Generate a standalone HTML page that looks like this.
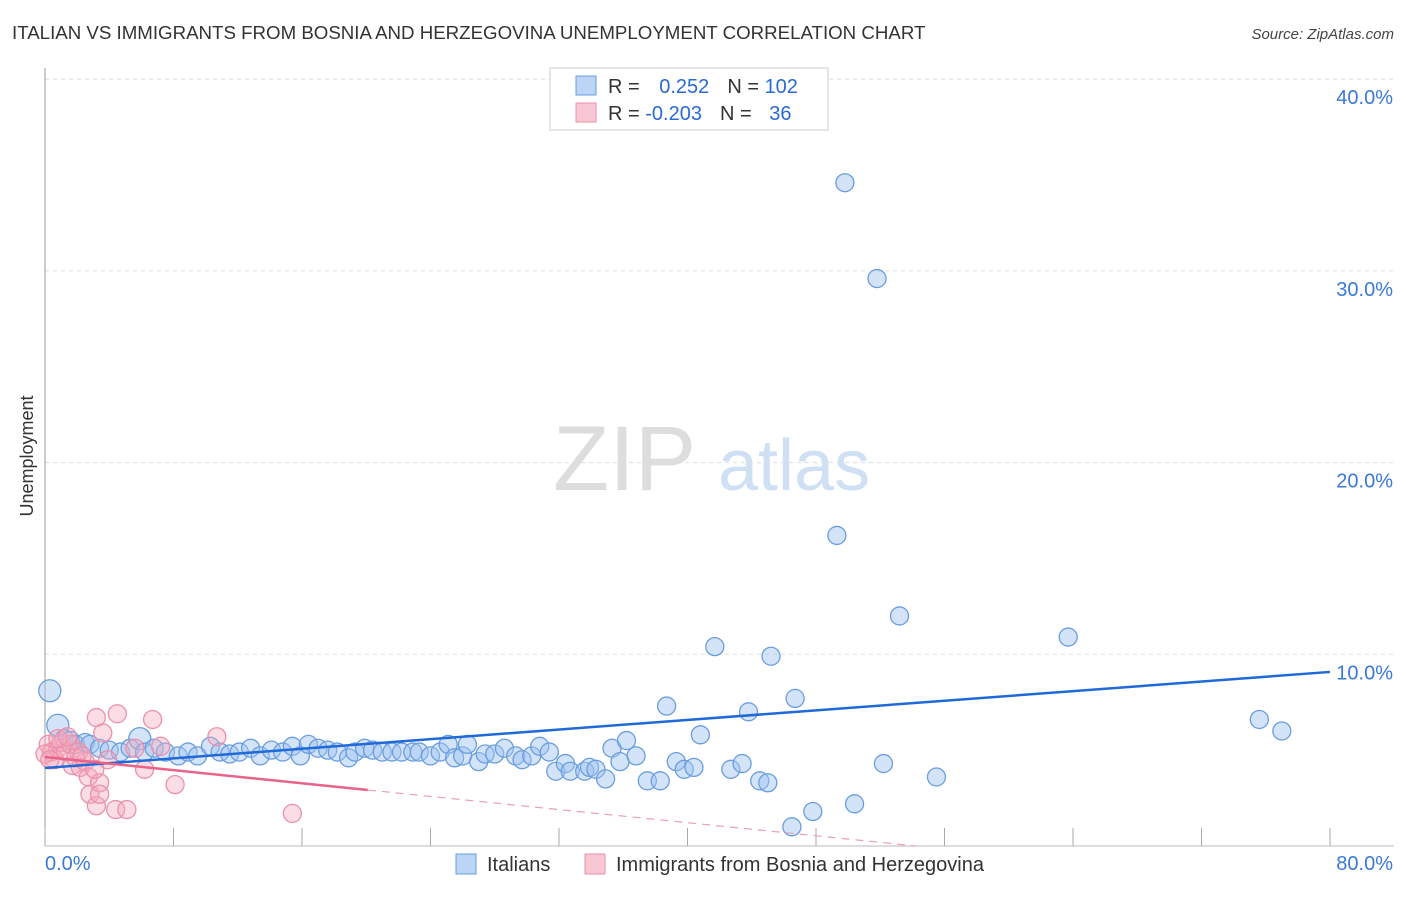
<!DOCTYPE html>
<html><head><meta charset="utf-8"><style>
body{margin:0;background:#fff;font-family:"Liberation Sans",sans-serif;}
svg text{font-family:"Liberation Sans",sans-serif;}
</style></head><body>
<svg id="chart" width="1406" height="892" viewBox="0 0 1406 892" xmlns="http://www.w3.org/2000/svg">
<text x="12" y="39" font-size="18.7" fill="#333">ITALIAN VS IMMIGRANTS FROM BOSNIA AND HERZEGOVINA UNEMPLOYMENT CORRELATION CHART</text>
<text x="1394" y="39" font-size="15" fill="#444" font-style="italic" text-anchor="end">Source: ZipAtlas.com</text>
<text transform="translate(33,456) rotate(-90)" font-size="18" fill="#333" text-anchor="middle">Unemployment</text>
<g><text x="553" y="490" font-size="92" fill="#ddd" font-family="Liberation Serif">ZIP</text><text x="718" y="490" font-size="72" fill="#cfe0f5">atlas</text></g>
<g id="grid"></g><g id="marks"></g>
<g>
<rect x="550" y="68" width="278" height="62" fill="#fff" stroke="#ccc"/>
<rect x="576" y="76" width="20" height="19" fill="#bcd4f6" stroke="#6a9de0"/>
<rect x="576" y="103" width="20" height="19" fill="#f9c6d4" stroke="#ec90aa"/>
<text x="608" y="93" font-size="20" fill="#333">R = <tspan fill="#2a6ad6" dx="14">0.252</tspan><tspan dx="18" fill="#333">N = </tspan><tspan fill="#2a6ad6">102</tspan></text>
<text x="608" y="120" font-size="20" fill="#333">R = <tspan fill="#2a6ad6">-0.203</tspan><tspan dx="18" fill="#333">N = </tspan><tspan fill="#2a6ad6" dx="12">36</tspan></text>
</g>
<g>
<rect x="456" y="854" width="20" height="20" fill="#bcd4f6" stroke="#6a9de0"/>
<text x="487" y="871" font-size="20" fill="#333">Italians</text>
<rect x="585" y="854" width="20" height="20" fill="#f9c6d4" stroke="#ec90aa"/>
<text x="616" y="871" font-size="20" fill="#333">Immigrants from Bosnia and Herzegovina</text>
</g>
</svg>
<script>
const yTicks=[10,20,30,40];
const yTickLabels=["10.0%","20.0%","30.0%","40.0%"];
const xTicks=[0,8,16,24,32,40,48,56,64,72,80];
const italiansX=[0.3,0.8,1.2,1.6,1.9,2.5,2.8,3.4,4.0,4.7,5.3,5.9,6.2,6.8,7.5,8.3,8.9,9.5,10.3,10.9,11.5,12.1,12.8,13.4,14.1,14.8,15.4,15.9,16.4,17.0,17.6,18.2,18.9,19.3,19.9,20.4,21.0,21.6,22.2,22.9,23.3,24.0,24.6,25.1,25.5,26.0,26.3,27.0,27.4,28.0,28.6,29.3,29.7,30.3,30.8,31.4,31.8,32.4,32.7,33.6,33.9,34.3,34.9,35.3,35.8,36.2,36.8,37.5,38.3,38.7,39.3,39.8,40.4,40.8,41.7,42.7,43.4,43.8,44.5,45.0,45.2,46.7,46.5,47.8,49.3,49.8,50.4,51.8,52.2,53.2,55.5,63.7,75.6,77.0];
const italiansY=[8.1,6.3,5.6,5.5,5.3,5.4,5.3,5.1,5.0,4.9,5.1,5.6,4.9,5.1,4.9,4.7,4.9,4.7,5.2,4.9,4.8,4.9,5.1,4.7,5.0,4.9,5.2,4.7,5.3,5.1,5.0,4.9,4.6,4.9,5.1,5.0,4.9,4.9,4.9,4.9,4.9,4.7,4.9,5.3,4.6,4.7,5.3,4.4,4.8,4.8,5.1,4.7,4.5,4.7,5.2,4.9,3.9,4.3,3.9,3.9,4.1,4.0,3.5,5.1,4.4,5.5,4.7,3.4,3.4,7.3,4.4,4.0,4.1,5.8,10.4,4.0,4.3,7.0,3.4,3.3,9.9,7.7,1.0,1.8,16.2,34.6,2.2,29.6,4.3,12.0,3.6,10.9,6.6,6.0];
const bosniaX=[0.2,0.4,0.6,0.8,1.0,1.3,1.6,1.7,2.1,2.2,2.5,2.7,2.8,3.2,3.4,3.2,3.4,3.6,3.9,4.4,4.5,5.1,6.2,6.7,8.1,7.2,10.7,15.4,0.8,0.0,0.3,1.9,3.1,1.4,2.3,5.6];
const bosniaY=[5.3,4.9,4.5,5.1,5.4,4.9,5.3,4.2,4.9,4.1,4.4,3.6,2.7,6.7,3.3,2.1,2.7,5.9,4.5,1.9,6.9,1.9,4.0,6.6,3.2,5.2,5.7,1.7,5.6,4.8,4.5,4.6,4.0,5.7,4.7,5.1];
const blueTrend=[4.07,9.08];
const pinkTrend=[4.64,-0.0856];
const X=v=>45+v/80*1285, Y=v=>846-v*19.17;
const NS='http://www.w3.org/2000/svg';
function mk(tag,attrs,parent){const e=document.createElementNS(NS,tag);for(const k in attrs)e.setAttribute(k,attrs[k]);parent.appendChild(e);return e;}
const grid=document.getElementById('grid'),marks=document.getElementById('marks');
yTicks.forEach((t,i)=>{
 const l=mk('line',{x1:45,x2:1394,y1:Y(t),y2:Y(t),stroke:'#ddd','stroke-dasharray':'4,4'},grid);
 
 
 const tx=mk('text',{x:1393,y:Y(t)+25,'font-size':20,fill:'#3b78d8','text-anchor':'end'},grid);
 tx.textContent=yTickLabels[i];
 
 
});
const ax=mk('line',{x1:45,x2:45,y1:68,y2:846,stroke:'#999'},grid);


const bx=mk('line',{x1:45,x2:1394,y1:846,y2:846,stroke:'#bbb'},grid);


xTicks.forEach(t=>{const l=mk('line',{x1:X(t),x2:X(t),y1:828,y2:846,stroke:'#aaa'},grid);
 
 });
const x0=mk('text',{x:45,y:870,'font-size':20,fill:'#3b78d8'},grid);x0.textContent='0.0%';


const x1=mk('text',{x:1393,y:870,'font-size':20,fill:'#3b78d8','text-anchor':'end'},grid);x1.textContent='80.0%';


italiansX.forEach((x,i)=>{const r=(i<2||i==11)?11:9;
 const c=mk('circle',{cx:X(x),cy:Y(italiansY[i]),r:r,fill:'rgba(160,195,240,0.45)',stroke:'#6a9de0','stroke-width':1.3},marks);
 
 });
bosniaX.forEach((x,i)=>{
 const c=mk('circle',{cx:X(x),cy:Y(bosniaY[i]),r:9,fill:'rgba(245,170,190,0.4)',stroke:'#ec90aa','stroke-width':1.3},marks);
 
 });
const bl=mk('line',{x1:X(0),y1:Y(blueTrend[0]),x2:X(80),y2:Y(blueTrend[1]),stroke:'#1f6ad8','stroke-width':2.5},marks);


const pEnd=20.1,pZero=-pinkTrend[0]/pinkTrend[1];
const pl=mk('line',{x1:X(0),y1:Y(pinkTrend[0]),x2:X(pEnd),y2:Y(pinkTrend[0]+pinkTrend[1]*pEnd),stroke:'#e8628a','stroke-width':2.5},marks);


const pd=mk('line',{x1:X(pEnd),y1:Y(pinkTrend[0]+pinkTrend[1]*pEnd),x2:X(pZero),y2:Y(0),stroke:'#e8a0b5','stroke-width':1.2,'stroke-dasharray':'8,6'},marks);


</script>
</body></html>
